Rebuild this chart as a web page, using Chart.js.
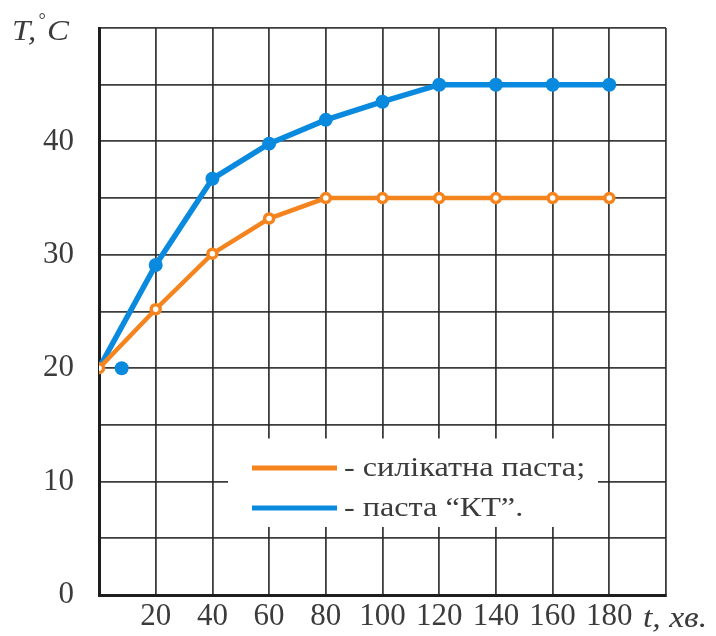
<!DOCTYPE html>
<html>
<head>
<meta charset="utf-8">
<script src="https://cdn.jsdelivr.net/npm/chart.js@4"></script>
<style>
  html, body { margin: 0; padding: 0; background: #fff; }
  #wrap { width: 716px; height: 636px; }
</style>
</head>
<body>
<div id="wrap"><canvas id="temp-chart" width="716" height="636"></canvas></div>
<script>
// heating time, minutes
const times = [0, 20, 40, 60, 80, 100, 120, 140, 160, 180];
// temperature, °C
const silicatePaste = [20, 25.2, 30.1, 33.2, 35, 35, 35, 35, 35, 35];
const ktPaste = [20, 29.1, 36.7, 39.8, 41.9, 43.5, 45, 45, 45, 45];
// the lone "КТ" marker next to the starting point
const ktStartTime = [8];
const ktStartTemp = [20];

const legendNames = ["- силікатна паста;", "- паста “КТ”."];

const ORANGE = "#f5841f";
const BLUE = "#0a8ade";
const GRID = "rgba(40,40,40,0.9)";
const TEXT = "#3b3b3b";
const SERIF = "'Liberation Serif', 'Times New Roman', serif";

const toPoints = (xs, ys) => xs.map((x, i) => ({ x: x, y: ys[i] }));

// text drawn a little wider than the font's own proportions
function wideText(ctx, str, x, y, sx) {
  ctx.save();
  ctx.translate(x, y);
  ctx.scale(sx, 1);
  ctx.fillText(str, 0, 0);
  ctx.restore();
}

// white box with the legend, plus the italic axis names
const annotations = {
  id: "annotations",
  beforeDatasetsDraw(chart) {
    const { ctx, scales } = chart;
    const x0 = scales.x.getPixelForValue(45.5);
    const x1 = scales.x.getPixelForValue(176);
    const y0 = scales.y.getPixelForValue(13.8);
    const y1 = scales.y.getPixelForValue(6.0);
    ctx.save();
    ctx.fillStyle = "#fff";
    ctx.fillRect(x0, y0, x1 - x0, y1 - y0);
    ctx.restore();
  },
  afterDatasetsDraw(chart) {
    const { ctx } = chart;
    const colors = [ORANGE, BLUE];
    const rows = [468, 508];
    ctx.save();
    ctx.lineCap = "butt";
    rows.forEach((y, i) => {
      ctx.strokeStyle = colors[i];
      ctx.lineWidth = 5;
      ctx.beginPath();
      ctx.moveTo(252, y);
      ctx.lineTo(337, y);
      ctx.stroke();
      ctx.fillStyle = TEXT;
      ctx.font = "28px " + SERIF;
      ctx.textBaseline = "middle";
      wideText(ctx, legendNames[i], 344, y + 1, 1.15);
    });
    ctx.textBaseline = "alphabetic";
    ctx.font = "italic 30px " + SERIF;
    wideText(ctx, "T,", 12, 40, 1.1);
    ctx.font = "italic 18px " + SERIF;
    ctx.fillText("°", 38, 26);
    ctx.font = "italic 30px " + SERIF;
    wideText(ctx, "C", 47, 40, 1.1);
    wideText(ctx, "t, хв.", 643, 627, 1.12);
    ctx.restore();
  }
};

new Chart(document.getElementById("temp-chart"), {
  type: "line",
  data: {
    datasets: [
      {
        label: "силікатна паста",
        data: toPoints(times, silicatePaste),
        borderColor: ORANGE,
        borderWidth: 4.5,
        pointRadius: 4.5,
        pointBorderWidth: 3.5,
        pointBackgroundColor: "#fff",
        pointBorderColor: ORANGE,
        tension: 0,
        order: 0
      },
      {
        label: "паста КТ",
        data: toPoints(times, ktPaste),
        borderColor: BLUE,
        borderWidth: 5.5,
        pointRadius: times.map((t, i) => (i === 0 ? 0 : 7)),
        pointBorderWidth: 0,
        pointBackgroundColor: BLUE,
        tension: 0,
        order: 1
      },
      {
        label: "",
        data: toPoints(ktStartTime, ktStartTemp),
        showLine: false,
        pointRadius: 7,
        pointBorderWidth: 0,
        pointBackgroundColor: BLUE,
        order: 1
      }
    ]
  },
  options: {
    responsive: false,
    animation: false,
    layout: { padding: { left: 0, top: 28, right: 50, bottom: 0 } },
    plugins: {
      legend: { display: false },
      tooltip: { enabled: false },
      title: { display: false }
    },
    scales: {
      x: {
        type: "linear",
        min: 0,
        max: 200,
        afterFit: (s) => {
          s.height = 41;
          s.paddingLeft = 0;
          s.paddingRight = 0;
        },
        ticks: {
          stepSize: 20,
          autoSkip: false,
          maxRotation: 0,
          padding: 3,
          color: TEXT,
          font: { family: SERIF, size: 31 },
          callback: (v) => (v > 0 && v < 200 ? v : "")
        },
        grid: { color: GRID, lineWidth: 1.8, drawTicks: false },
        border: { color: "#1e1e1e", width: 3 }
      },
      y: {
        min: 0,
        max: 50,
        afterFit: (s) => {
          s.width = 99;
          s.paddingTop = 0;
          s.paddingBottom = 0;
        },
        ticks: {
          stepSize: 5,
          autoSkip: false,
          padding: 25,
          color: TEXT,
          font: { family: SERIF, size: 31 },
          callback: (v) => (v % 10 === 0 && v < 50 ? v : "")
        },
        grid: { color: GRID, lineWidth: 1.8, drawTicks: false },
        border: { color: "#1e1e1e", width: 3 }
      }
    }
  },
  plugins: [annotations]
});
</script>
</body>
</html>
